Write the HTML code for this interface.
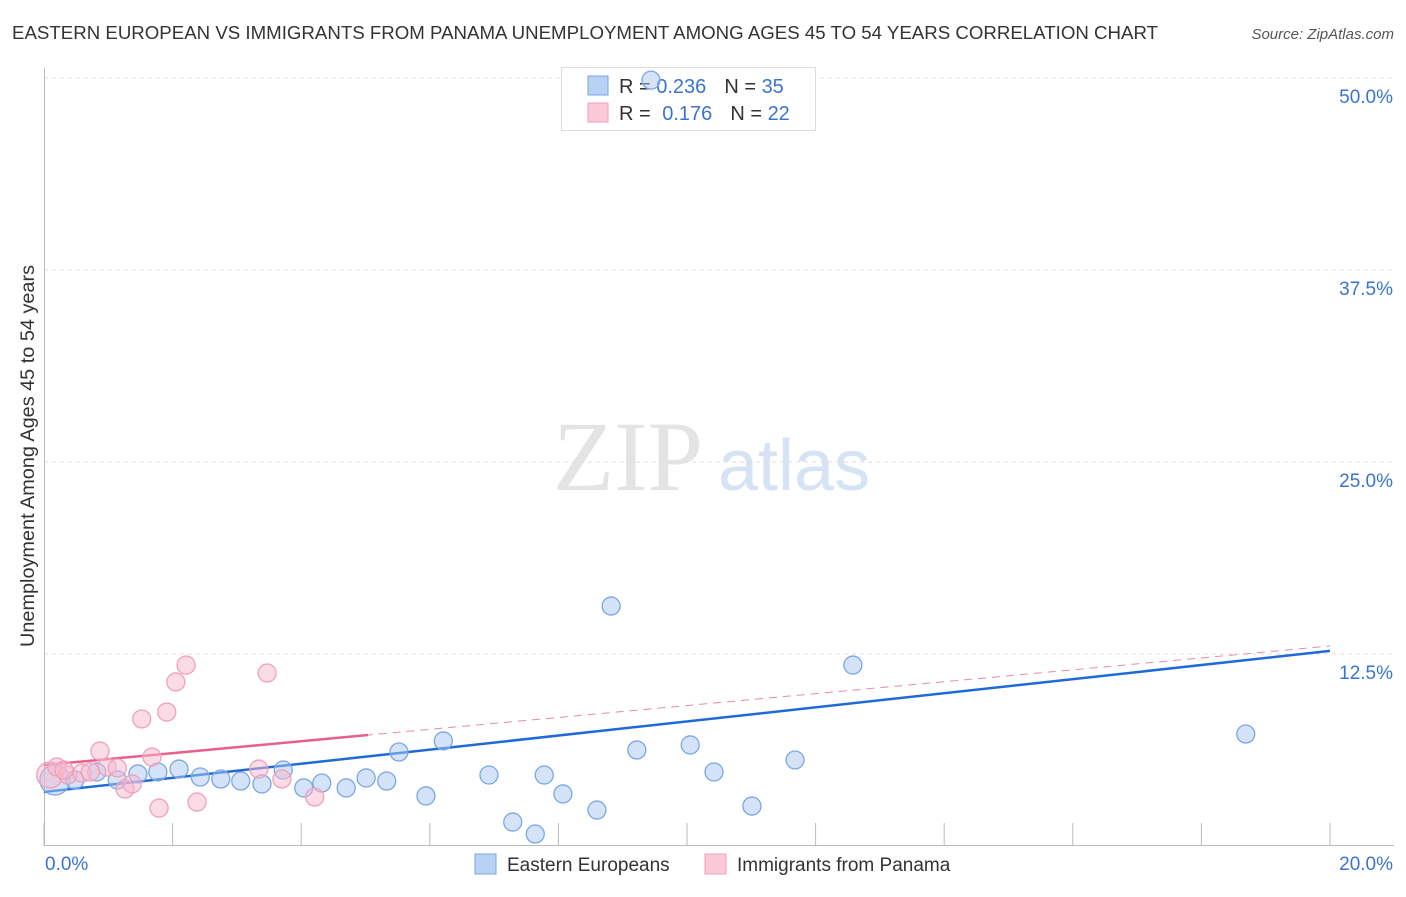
<!DOCTYPE html>
<html><head><meta charset="utf-8"><style>
body{margin:0;background:#fff;font-family:"Liberation Sans",sans-serif;}
</style></head><body>
<svg id="chart" width="1406" height="892" viewBox="0 0 1406 892" font-family="Liberation Sans, sans-serif">
<text x="12" y="39" font-size="18" fill="#333" textLength="1146" lengthAdjust="spacingAndGlyphs">EASTERN EUROPEAN VS IMMIGRANTS FROM PANAMA UNEMPLOYMENT AMONG AGES 45 TO 54 YEARS CORRELATION CHART</text>
<text x="1394" y="39" font-size="15" fill="#555" text-anchor="end" font-style="italic">Source: ZipAtlas.com</text>
<text x="553" y="490" font-size="100" fill="#e4e4e4" style="font-family:'Liberation Serif',serif">ZIP</text>
<text x="718" y="490" font-size="72" fill="#d6e3f5">atlas</text>
<text transform="translate(34,456) rotate(-90)" font-size="19.5" fill="#333" text-anchor="middle" textLength="382" lengthAdjust="spacingAndGlyphs">Unemployment Among Ages 45 to 54 years</text>
<g id="grid"></g><g id="axes"></g>
<g>
<rect x="561.5" y="67.5" width="254" height="63" fill="#fff" stroke="#ddd"/>
<rect x="588" y="76" width="20" height="19" fill="#b8d2f5" stroke="#7aa6e6"/>
<rect x="588" y="103" width="20" height="19" fill="#fbc9d7" stroke="#f0a0b8"/>
<text x="619" y="93" font-size="20" fill="#333">R = <tspan fill="#3b74d0">0.236</tspan><tspan dx="18">N = </tspan><tspan fill="#3b74d0">35</tspan></text>
<text x="619" y="120" font-size="20" fill="#333">R = <tspan fill="#3b74d0" dx="6">0.176</tspan><tspan dx="18">N = </tspan><tspan fill="#3b74d0">22</tspan></text>
</g>
<g id="lines"></g><g id="points"></g>
<g>
<rect x="475" y="854" width="21" height="20" fill="#b8d2f5" stroke="#7aa6e6"/>
<text x="507" y="871" font-size="19" fill="#333">Eastern Europeans</text>
<rect x="705" y="854" width="21" height="20" fill="#fbc9d7" stroke="#f0a0b8"/>
<text x="737" y="871" font-size="19" fill="#333">Immigrants from Panama</text>
</g>
</svg>
<script>
const yTicks=[12.5,25,37.5,50];
const yTickLabels=["12.5%","25.0%","37.5%","50.0%"];
const xTicks=[0,2,4,6,8,10,12,14,16,18,20];
const blueX=[0.17,0.48,0.82,1.14,1.46,1.77,2.10,2.43,2.75,3.06,3.39,3.72,4.04,4.32,4.70,5.01,5.33,5.52,5.94,6.21,6.92,7.29,7.64,7.78,8.07,8.60,8.82,9.22,9.44,10.05,10.42,11.01,11.68,12.58,18.69];
const blueY=[4.30,4.30,4.82,4.30,4.69,4.82,5.01,4.49,4.36,4.23,4.04,4.95,3.78,4.10,3.78,4.43,4.23,6.12,3.26,6.84,4.62,1.56,0.78,4.62,3.39,2.34,15.62,6.25,49.86,6.58,4.82,2.60,5.60,11.78,7.29];
const pinkX=[0.09,0.20,0.37,0.59,0.87,0.98,1.14,1.26,1.37,1.52,1.68,1.79,1.91,2.05,2.21,2.38,3.34,3.47,3.70,4.21,0.31,0.72];
const pinkY=[4.62,5.14,4.62,4.75,6.18,5.14,5.08,3.71,4.04,8.27,5.79,2.47,8.72,10.68,11.78,2.86,5.01,11.26,4.36,3.19,4.95,4.82];
const blueTrend=[3.52,12.7];
const pinkTrend=[5.27,13.02];
const pinkSolidEnd=5.04;

const NS="http://www.w3.org/2000/svg";
const X=v=>44+v/20*1286;
const Y=v=>846-v/12.5*192;
function mk(tag,attrs,parent){const e=document.createElementNS(NS,tag);for(const k in attrs)e.setAttribute(k,attrs[k]);document.getElementById(parent).appendChild(e);return e;}
yTicks.forEach((t,i)=>{
  const g=mk('line',{x1:44,x2:1394,y1:Y(t),y2:Y(t),stroke:'#ddd','stroke-dasharray':'4,4'},'grid');
  
  
  const l=mk('text',{x:1393,y:Y(t)+25,'font-size':19,fill:'#3b74d0','text-anchor':'end'},'grid');
  l.textContent=yTickLabels[i];
  
  
});
const ax=mk('line',{x1:44,x2:1394,y1:845.5,y2:845.5,stroke:'#bbb'},'axes');


const ay=mk('line',{x1:44.5,x2:44.5,y1:68,y2:846,stroke:'#bbb'},'axes');


xTicks.forEach(t=>{
  const k=mk('line',{x1:X(t),x2:X(t),y1:823,y2:846,stroke:'#bbb'},'axes');
  
  
});
const xl0=mk('text',{x:45,y:870,'font-size':19,fill:'#3b74d0'},'axes');xl0.textContent='0.0%';


const xl1=mk('text',{x:1393,y:870,'font-size':19,fill:'#3b74d0','text-anchor':'end'},'axes');xl1.textContent='20.0%';



const pd=mk('line',{x1:X(0),y1:Y(pinkTrend[0]),x2:X(20),y2:Y(pinkTrend[1]),stroke:'#e68aa8','stroke-width':1,'stroke-dasharray':'8,6'},'lines');


const ps=pinkTrend[0]+(pinkTrend[1]-pinkTrend[0])*pinkSolidEnd/20;
const pl=mk('line',{x1:X(0),y1:Y(pinkTrend[0]),x2:X(pinkSolidEnd),y2:Y(ps),stroke:'#e8608a','stroke-width':2.5},'lines');


const bl=mk('line',{x1:X(0),y1:Y(blueTrend[0]),x2:X(20),y2:Y(blueTrend[1]),stroke:'#1f6ad8','stroke-width':2.5},'lines');



blueX.forEach((x,i)=>{
  const c=mk('circle',{cx:X(x),cy:Y(blueY[i]),r:i===0?15:9,fill:'rgba(170,200,240,0.5)',stroke:'#7aa6e6','stroke-width':1.3},'points');
  
  
});
pinkX.forEach((x,i)=>{
  const c=mk('circle',{cx:X(x),cy:Y(pinkY[i]),r:i===0?13:9,fill:'rgba(248,185,205,0.5)',stroke:'#f0a0b8','stroke-width':1.3},'points');
  
  
});
</script>
</body></html>
